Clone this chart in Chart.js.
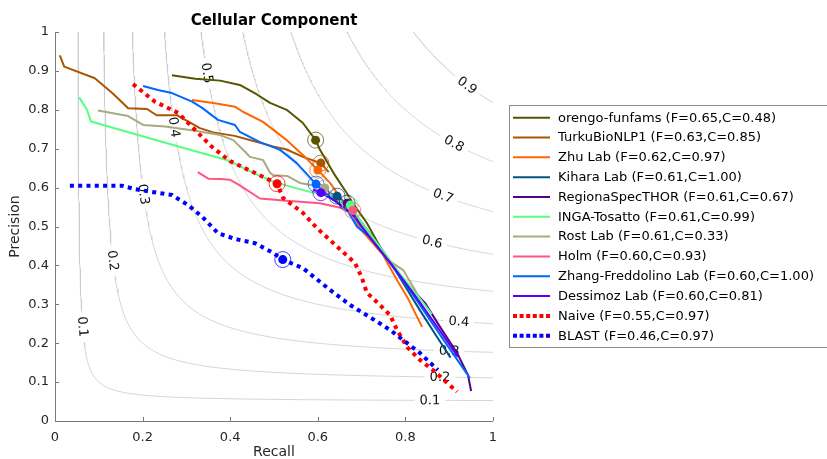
<!DOCTYPE html>
<html>
<head>
<meta charset="utf-8">
<script src="https://cdn.jsdelivr.net/npm/chart.js@4.4.1/dist/chart.umd.min.js"></script>
<style>
  html, body { margin: 0; padding: 0; background: #fff; }
  #wrap { width: 827px; height: 459px; position: relative; }
</style>
</head>
<body>
<div id="wrap"><canvas id="c" width="827" height="459"></canvas></div>
<script>
// ---- text ----
const chartTitle = 'Cellular Component';
const xAxisTitle = 'Recall';
const yAxisTitle = 'Precision';
const xTickValues = [0, 0.2, 0.4, 0.6, 0.8, 1];
const xTickLabels = ['0', '0.2', '0.4', '0.6', '0.8', '1'];
const yTickValues = [0, 0.1, 0.2, 0.3, 0.4, 0.5, 0.6, 0.7, 0.8, 0.9, 1];
const yTickLabels = ['0', '0.1', '0.2', '0.3', '0.4', '0.5', '0.6', '0.7', '0.8', '0.9', '1'];

// ---- methods ----
const methodNames = ['orengo-funfams', 'TurkuBioNLP1', 'Zhu Lab', 'Kihara Lab', 'RegionaSpecTHOR',
  'INGA-Tosatto', 'Rost Lab', 'Holm', 'Zhang-Freddolino Lab', 'Dessimoz Lab', 'Naive', 'BLAST'];
const fMax     = [0.65, 0.63, 0.62, 0.61, 0.61, 0.61, 0.61, 0.60, 0.60, 0.60, 0.55, 0.46];
const coverage = [0.48, 0.85, 0.97, 1.00, 0.67, 0.99, 0.33, 0.93, 1.00, 0.81, 0.97, 0.97];
const lineColors = ['rgb(85,85,0)', 'rgb(170,85,0)', 'rgb(255,102,0)', 'rgb(0,85,128)', 'rgb(85,0,128)',
  'rgb(85,255,128)', 'rgb(170,170,128)', 'rgb(255,85,128)', 'rgb(0,102,255)', 'rgb(85,0,255)',
  'rgb(255,0,0)', 'rgb(0,0,255)'];
const dottedLine = [false, false, false, false, false, false, false, false, false, false, true, true];

// ---- precision / recall curves ----
const orengoRecall    = [0.267, 0.32, 0.377, 0.422, 0.46, 0.491, 0.529, 0.566, 0.595, 0.605, 0.639, 0.666, 0.68, 0.712, 0.742, 0.765, 0.79];
const orengoPrecision = [0.889, 0.88, 0.875, 0.864, 0.84, 0.818, 0.80, 0.766, 0.722, 0.697, 0.632, 0.586, 0.56, 0.509, 0.448, 0.41, 0.37];

const turkuRecall    = [0.011, 0.021, 0.091, 0.132, 0.167, 0.21, 0.232, 0.278, 0.331, 0.361, 0.41, 0.453, 0.498, 0.529, 0.566, 0.607, 0.625];
const turkuPrecision = [0.94, 0.911, 0.881, 0.842, 0.804, 0.802, 0.786, 0.786, 0.753, 0.742, 0.733, 0.72, 0.706, 0.698, 0.679, 0.663, 0.64];

const zhuRecall    = [0.313, 0.365, 0.411, 0.429, 0.475, 0.529, 0.566, 0.60, 0.628, 0.66, 0.70, 0.749, 0.781, 0.804, 0.838];
const zhuPrecision = [0.825, 0.817, 0.808, 0.795, 0.769, 0.722, 0.684, 0.645, 0.612, 0.56, 0.49, 0.427, 0.362, 0.319, 0.242];

const kiharaRecall    = [0.625, 0.644, 0.67, 0.70, 0.735, 0.765, 0.80, 0.833, 0.87, 0.903];
const kiharaPrecision = [0.587, 0.578, 0.55, 0.50, 0.45, 0.41, 0.345, 0.285, 0.22, 0.163];

const regionaRecall    = [0.655, 0.667, 0.70, 0.74, 0.79, 0.845, 0.879, 0.918, 0.943, 0.95];
const regionaPrecision = [0.567, 0.56, 0.51, 0.45, 0.37, 0.303, 0.242, 0.175, 0.118, 0.077];

const ingaRecall    = [0.055, 0.073, 0.082, 0.20, 0.30, 0.392, 0.45, 0.498, 0.529, 0.582, 0.62, 0.674, 0.70, 0.74, 0.79, 0.83, 0.86];
const ingaPrecision = [0.832, 0.80, 0.77, 0.732, 0.70, 0.671, 0.64, 0.615, 0.605, 0.589, 0.581, 0.555, 0.51, 0.45, 0.375, 0.32, 0.275];

const rostRecall    = [0.098, 0.167, 0.201, 0.251, 0.32, 0.377, 0.407, 0.434, 0.445, 0.475, 0.491, 0.498, 0.53, 0.559, 0.598, 0.616, 0.65, 0.70, 0.76, 0.795, 0.826];
const rostPrecision = [0.798, 0.784, 0.761, 0.757, 0.746, 0.735, 0.722, 0.692, 0.679, 0.671, 0.638, 0.632, 0.63, 0.612, 0.604, 0.599, 0.56, 0.50, 0.414, 0.388, 0.329];

const holmRecall    = [0.326, 0.35, 0.377, 0.40, 0.42, 0.468, 0.529, 0.605, 0.68];
const holmPrecision = [0.64, 0.623, 0.622, 0.62, 0.607, 0.572, 0.566, 0.56, 0.541];

const zhangRecall    = [0.201, 0.235, 0.267, 0.313, 0.336, 0.372, 0.411, 0.422, 0.468, 0.514, 0.552, 0.596, 0.628, 0.667, 0.69, 0.719, 0.765, 0.82, 0.88, 0.947];
const zhangPrecision = [0.861, 0.851, 0.843, 0.821, 0.805, 0.774, 0.761, 0.743, 0.717, 0.697, 0.663, 0.609, 0.576, 0.542, 0.499, 0.473, 0.406, 0.32, 0.22, 0.111];

const dessimozRecall    = [0.59, 0.607, 0.64, 0.68, 0.72, 0.77, 0.83, 0.88, 0.92];
const dessimozPrecision = [0.595, 0.587, 0.565, 0.53, 0.47, 0.40, 0.31, 0.23, 0.165];

const naiveRecall    = [0.178, 0.228, 0.281, 0.32, 0.358, 0.40, 0.452, 0.507, 0.521, 0.566, 0.598, 0.628, 0.658, 0.685, 0.70, 0.712, 0.742, 0.765, 0.781, 0.804, 0.833, 0.863, 0.918];
const naivePrecision = [0.866, 0.821, 0.792, 0.748, 0.705, 0.668, 0.64, 0.61, 0.573, 0.535, 0.496, 0.465, 0.434, 0.406, 0.37, 0.33, 0.298, 0.272, 0.234, 0.19, 0.157, 0.131, 0.075];

const blastRecall    = [0.034, 0.153, 0.183, 0.221, 0.267, 0.304, 0.336, 0.372, 0.411, 0.457, 0.495, 0.52, 0.566, 0.628, 0.674, 0.719, 0.765, 0.804, 0.833, 0.874];
const blastPrecision = [0.605, 0.605, 0.596, 0.589, 0.581, 0.555, 0.525, 0.483, 0.468, 0.457, 0.434, 0.415, 0.393, 0.337, 0.298, 0.267, 0.234, 0.20, 0.175, 0.131];

const curveRecall = [orengoRecall, turkuRecall, zhuRecall, kiharaRecall, regionaRecall, ingaRecall,
  rostRecall, holmRecall, zhangRecall, dessimozRecall, naiveRecall, blastRecall];
const curvePrecision = [orengoPrecision, turkuPrecision, zhuPrecision, kiharaPrecision, regionaPrecision, ingaPrecision,
  rostPrecision, holmPrecision, zhangPrecision, dessimozPrecision, naivePrecision, blastPrecision];

// operating point where each method reaches its F-max
const fmaxRecall    = [0.595, 0.607, 0.60, 0.644, 0.667, 0.674, 0.616, 0.68, 0.596, 0.607, 0.507, 0.52];
const fmaxPrecision = [0.722, 0.663, 0.645, 0.578, 0.56, 0.555, 0.599, 0.541, 0.609, 0.587, 0.61, 0.415];

// ---- iso-F reference curves and their labels ----
const isoFLevels = [0.1, 0.2, 0.3, 0.4, 0.5, 0.6, 0.7, 0.8, 0.9];
const isoLabelLevels = [0.1, 0.1, 0.2, 0.2, 0.3, 0.3, 0.4, 0.4, 0.5, 0.6, 0.7, 0.8, 0.9];
const isoLabelRecall = [0.063, 0.856, 0.132, 0.879, 0.202, 0.90, 0.272, 0.922, 0.347, 0.861, 0.886, 0.911, 0.941];

const FONT = "'DejaVu Sans', 'Liberation Sans', sans-serif";
const TEXT = '#262626';

// points (R, P) with 2PR/(P+R) = f, from the top edge down to the right edge
function isoFCurve(f) {
  const pts = [];
  const n = 80;
  for (let i = 0; i <= n; i++) {
    const p = 1 - (1 - f) * i / n;
    pts.push({ x: f * p / (2 * p - f), y: p });
  }
  for (let i = 1; i <= n; i++) {
    const r = f + (1 - f) * i / n;
    pts.push({ x: r, y: f * r / (2 * r - f) });
  }
  return pts;
}
const isoPrecision = (f, r) => f * r / (2 * r - f);

function withAlpha(rgb, a) {
  return rgb.replace('rgb(', 'rgba(').replace(')', ',' + a + ')');
}

const datasets = [];
isoFLevels.forEach(f => {
  datasets.push({
    data: isoFCurve(f), showLine: true, borderColor: '#cbcbcb', borderWidth: 0.8,
    pointRadius: 0, order: 100
  });
});
methodNames.forEach((name, i) => {
  datasets.push({
    label: name,
    data: curveRecall[i].map((r, k) => ({ x: r, y: curvePrecision[i][k] })),
    showLine: true,
    borderColor: lineColors[i],
    borderWidth: dottedLine[i] ? 4 : 2,
    borderDash: dottedLine[i] ? [4, 4.3] : [],
    borderCapStyle: 'butt',
    borderJoinStyle: 'round',
    pointRadius: 0,
    tension: 0,
    order: 50 - i
  });
});
datasets.push({
  data: fmaxRecall.map((r, i) => ({ x: r, y: fmaxPrecision[i] })),
  showLine: false, pointRadius: 8, pointBorderWidth: 1,
  pointBackgroundColor: 'rgba(0,0,0,0)',
  pointBorderColor: lineColors.map(c => withAlpha(c, 0.75)),
  order: 2
});
datasets.push({
  data: fmaxRecall.map((r, i) => ({ x: r, y: fmaxPrecision[i] })),
  showLine: false, pointRadius: 4.5, pointBorderWidth: 0,
  pointBackgroundColor: lineColors, pointBorderColor: lineColors,
  order: 1
});

// contour labels sit on a white patch that breaks the iso-F line
const isoLabelPlugin = {
  id: 'isoLabels',
  afterDatasetDraw(chart, args) {
    if (args.index !== 0) return;
    const xs = chart.scales.x, ys = chart.scales.y, ctx = chart.ctx;
    ctx.save();
    ctx.font = '13px ' + FONT;
    ctx.textAlign = 'center';
    ctx.textBaseline = 'middle';
    isoLabelLevels.forEach((f, i) => {
      const r = isoLabelRecall[i];
      const px = xs.getPixelForValue(r), py = ys.getPixelForValue(isoPrecision(f, r));
      const e = 0.002;
      const dx = xs.getPixelForValue(r + e) - xs.getPixelForValue(r - e);
      const dy = ys.getPixelForValue(isoPrecision(f, r + e)) - ys.getPixelForValue(isoPrecision(f, r - e));
      const ang = Math.atan2(dy, dx);
      const txt = f.toFixed(1);
      const w = ctx.measureText(txt).width;
      ctx.save();
      ctx.translate(px, py);
      ctx.rotate(ang);
      ctx.fillStyle = '#fff';
      ctx.fillRect(-w / 2 - 5, -6, w + 10, 12);
      ctx.fillStyle = '#111';
      ctx.fillText(txt, 0, 0.5);
      ctx.restore();
    });
    ctx.restore();
  }
};

// axis lines, inward ticks, title and legend box
const framePlugin = {
  id: 'frame',
  afterDraw(chart) {
    const ctx = chart.ctx, a = chart.chartArea, xs = chart.scales.x, ys = chart.scales.y;
    ctx.save();
    ctx.strokeStyle = '#7a7a7a';
    ctx.lineWidth = 1;
    ctx.beginPath();
    ctx.moveTo(a.left + 0.5, a.top);
    ctx.lineTo(a.left + 0.5, a.bottom + 0.5);
    ctx.lineTo(a.right, a.bottom + 0.5);
    xTickValues.forEach(v => {
      const x = Math.round(xs.getPixelForValue(v)) + 0.5;
      ctx.moveTo(x, a.bottom); ctx.lineTo(x, a.bottom - 4);
    });
    yTickValues.forEach(v => {
      const y = Math.round(ys.getPixelForValue(v)) + 0.5;
      ctx.moveTo(a.left, y); ctx.lineTo(a.left + 4, y);
    });
    ctx.stroke();

    // title
    ctx.fillStyle = '#000';
    ctx.font = 'bold 15px ' + FONT;
    ctx.textAlign = 'center';
    ctx.textBaseline = 'middle';
    ctx.fillText(chartTitle, (a.left + a.right) / 2, 21);

    // legend
    const lx = 509.5, ly = 105.5, step = 19.82;
    ctx.fillStyle = '#fff';
    ctx.fillRect(lx, ly, 330, 242);
    ctx.strokeStyle = '#8c8c8c';
    ctx.lineWidth = 1;
    ctx.strokeRect(lx, ly, 330, 242);
    ctx.font = '13px ' + FONT;
    ctx.textAlign = 'left';
    ctx.textBaseline = 'middle';
    methodNames.forEach((name, i) => {
      const y = 117.7 + i * step;
      ctx.save();
      ctx.strokeStyle = lineColors[i];
      ctx.lineCap = 'butt';
      if (dottedLine[i]) { ctx.lineWidth = 4; ctx.setLineDash([4, 2.6]); }
      else { ctx.lineWidth = 2; ctx.setLineDash([]); }
      ctx.beginPath();
      ctx.moveTo(513, y); ctx.lineTo(550, y);
      ctx.stroke();
      ctx.restore();
      ctx.fillStyle = '#000';
      ctx.fillText(name + ' (F=' + fMax[i].toFixed(2) + ',C=' + coverage[i].toFixed(2) + ')', 558, y + 0.5);
    });
    ctx.restore();
  }
};

new Chart(document.getElementById('c'), {
  type: 'scatter',
  data: { datasets },
  options: {
    responsive: false,
    animation: false,
    devicePixelRatio: 1,
    events: [],
    layout: { padding: { left: 0, top: 32, right: 334, bottom: 0 } },
    plugins: { legend: { display: false }, tooltip: { enabled: false }, title: { display: false } },
    scales: {
      x: {
        type: 'linear', min: 0, max: 1,
        afterBuildTicks: s => { s.ticks = xTickValues.map(v => ({ value: v })); },
        afterFit: s => { s.height = 38; },
        ticks: {
          callback: (v, i) => xTickLabels[i], autoSkip: false, maxRotation: 0,
          padding: 9, color: TEXT, font: { family: FONT, size: 13 }
        },
        grid: { display: false, drawTicks: false },
        border: { display: false },
        title: { display: true, text: xAxisTitle, color: TEXT, font: { family: FONT, size: 14, lineHeight: 1 }, padding: { top: 0, bottom: 0 } }
      },
      y: {
        type: 'linear', min: 0, max: 1,
        afterBuildTicks: s => { s.ticks = yTickValues.map(v => ({ value: v })); },
        afterFit: s => { s.width = 55; },
        ticks: {
          callback: (v, i) => yTickLabels[i], autoSkip: false,
          padding: 6, color: TEXT, font: { family: FONT, size: 13 }
        },
        grid: { display: false, drawTicks: false },
        border: { display: false },
        title: { display: true, text: yAxisTitle, color: TEXT, font: { family: FONT, size: 14, lineHeight: 1.2 }, padding: { top: 7, bottom: 0 } }
      }
    }
  },
  plugins: [isoLabelPlugin, framePlugin]
});
</script>
</body>
</html>
